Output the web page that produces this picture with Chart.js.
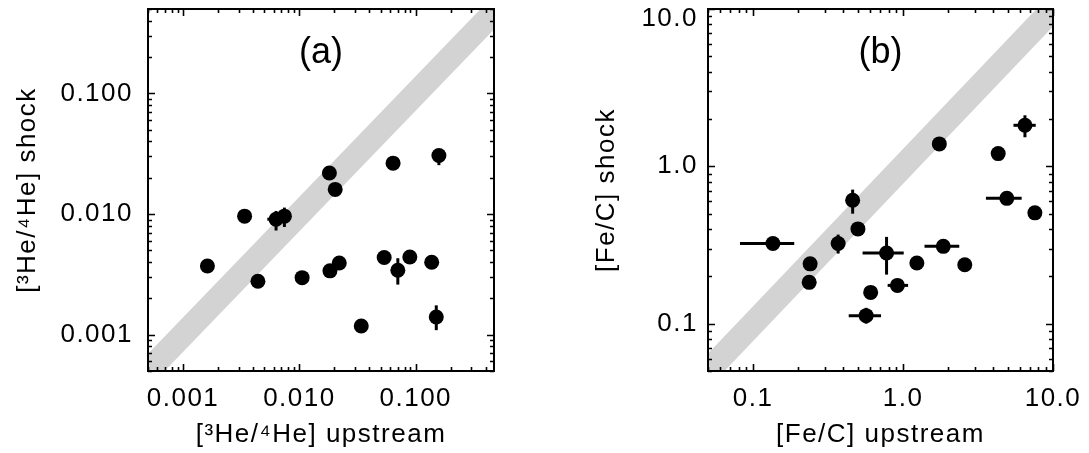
<!DOCTYPE html>
<html><head><meta charset="utf-8">
<script src="https://cdn.jsdelivr.net/npm/chart.js@4.4.1/dist/chart.umd.min.js"></script>
<style>
html,body{margin:0;padding:0;background:#fff;overflow:hidden}
#wrap{position:relative;width:1089px;height:453px;background:#fff}
canvas{position:absolute;top:0}
#ca{left:0}
#cb{left:545px}
</style></head><body>
<div id="wrap"><canvas id="ca" width="545" height="453"></canvas><canvas id="cb" width="544" height="453"></canvas></div>
<script>
// ---------- Panel (a): 3He/4He ----------
const xA = [0.00162, 0.00338, 0.0044, 0.0063, 0.00743, 0.01055, 0.0181, 0.0203, 0.0183, 0.022, 0.034, 0.0535, 0.0638, 0.0701, 0.0889, 0.137, 0.158, 0.150];
const yA = [0.00371, 0.0096, 0.00277, 0.00906, 0.0096, 0.00297, 0.0219, 0.016, 0.00338, 0.00393, 0.00118, 0.00436, 0.0264, 0.00342, 0.0044, 0.00398, 0.0305, 0.0014];
const xLoA = [null, null, null, 0.0053, 0.0067, null, null, null, null, null, null, null, null, null, null, null, null, null];
const xHiA = [null, null, null, 0.0075, 0.0082, null, null, null, null, null, null, null, null, null, null, null, null, null];
const yLoA = [null, null, null, 0.0073, 0.0078, null, null, null, null, null, null, null, null, 0.0026, null, 0.0035, 0.0254, 0.00109];
const yHiA = [null, null, null, 0.0106, 0.0113, null, null, null, null, null, null, null, null, 0.0043, null, 0.0045, 0.0344, 0.00175];
const rangeA = [0.0005, 0.47];
const yRangeA = [0.0005, 0.5];
const xTicksA = [0.001, 0.01, 0.1];
const xTickLabelsA = ['0.001', '0.010', '0.100'];
const yTicksA = [0.001, 0.01, 0.1];
const yTickLabelsA = ['0.001', '0.010', '0.100'];
const xTitleA = '[³He/⁴He] upstream';
const yTitleA = '[³He/⁴He] shock';
const panelA = '(a)';

// ---------- Panel (b): Fe/C ----------
const xB = [0.1355, 0.24, 0.2365, 0.369, 0.461, 0.50, 0.776, 0.608, 0.567, 0.917, 1.236, 1.855, 1.745, 2.58, 4.31, 4.92, 6.5, 7.57];
const yB = [0.323, 0.24, 0.183, 0.323, 0.608, 0.40, 0.281, 0.158, 0.1124, 0.175, 0.243, 0.31, 1.388, 0.237, 1.205, 0.626, 1.823, 0.506];
const xLoB = [0.0817, null, null, null, null, null, 0.537, null, 0.434, 0.789, null, 1.39, null, null, null, 3.57, 5.45, null];
const xHiB = [0.188, null, null, null, null, null, 1.01, null, 0.713, 1.08, null, 2.37, null, null, null, 6.18, 7.67, null];
const yLoB = [null, null, null, 0.279, 0.5, null, 0.205, null, 0.1, null, null, null, null, null, null, null, 1.53, null];
const yHiB = [null, null, null, 0.368, 0.711, null, 0.356, null, 0.126, null, null, null, null, null, null, null, 2.11, null];
const rangeB = [0.05, 10];
const yRangeB = [0.05, 10];
const xTicksB = [0.1, 1, 10];
const xTickLabelsB = ['0.1', '1.0', '10.0'];
const yTicksB = [0.1, 1, 10];
const yTickLabelsB = ['0.1', '1.0', '10.0'];
const xTitleB = '[Fe/C] upstream';
const yTitleB = '[Fe/C] shock';
const panelB = '(b)';

// equality line y = x (drawn as a thick band)
const bandLine = [1e-5, 1e3];

Chart.defaults.font.family = '"Liberation Sans", Arial, Helvetica, sans-serif';
Chart.defaults.color = '#000';

const FONT = 26;

const framePlugin = {
  id: 'frame',
  beforeDraw(chart) {
    const ca = chart.chartArea;
    // keep the top y label inside the canvas (as in the reference)
    const items = chart.scales.y.getLabelItems(ca);
    for (const it of items) {
      const t = it.options.translation;
      if (t && t[1] < ca.top + 10) t[1] = ca.top + 10;
    }
    chart.ctx.letterSpacing = '1.5px';
  },
  afterDatasetsDraw(chart, args, opts) {
    const ctx = chart.ctx, ca = chart.chartArea;
    const xs = chart.scales.x, ys = chart.scales.y;
    ctx.save();
    ctx.beginPath(); ctx.rect(ca.left, ca.top, ca.right - ca.left, ca.bottom - ca.top); ctx.clip();
    ctx.strokeStyle = '#000'; ctx.lineWidth = 3; ctx.lineCap = 'butt';
    const e = opts.err;
    for (let i = 0; i < e.x.length; i++) {
      const px = xs.getPixelForValue(e.x[i]), py = ys.getPixelForValue(e.y[i]);
      if (e.xlo[i] != null) {
        ctx.beginPath(); ctx.moveTo(xs.getPixelForValue(e.xlo[i]), py); ctx.lineTo(xs.getPixelForValue(e.xhi[i]), py); ctx.stroke();
      }
      if (e.ylo[i] != null) {
        ctx.beginPath(); ctx.moveTo(px, ys.getPixelForValue(e.ylo[i])); ctx.lineTo(px, ys.getPixelForValue(e.yhi[i])); ctx.stroke();
      }
    }
    ctx.restore();
  },
  afterDraw(chart, args, opts) {
    const ctx = chart.ctx, ca = chart.chartArea;
    const xs = chart.scales.x, ys = chart.scales.y;
    ctx.save();
    ctx.letterSpacing = '0px';
    ctx.strokeStyle = '#000';
    ctx.lineWidth = 2;
    ctx.strokeRect(ca.left, ca.top, ca.right - ca.left, ca.bottom - ca.top);
    ctx.lineWidth = 1.6;
    const drawTicks = (scale, horizontal) => {
      const lo = scale.min, hi = scale.max;
      for (let d = Math.floor(Math.log10(lo)); d <= Math.ceil(Math.log10(hi)); d++) {
        for (let m = 1; m <= 9; m++) {
          const v = m * Math.pow(10, d);
          if (v < lo * 0.999 || v > hi * 1.001) continue;
          const len = m === 1 ? 7 : 4;
          const p = Math.round(scale.getPixelForValue(v)) + 0.5;
          ctx.beginPath();
          if (horizontal) {
            ctx.moveTo(p, ca.bottom); ctx.lineTo(p, ca.bottom - len);
            ctx.moveTo(p, ca.top); ctx.lineTo(p, ca.top + len);
          } else {
            ctx.moveTo(ca.left, p); ctx.lineTo(ca.left + len, p);
            ctx.moveTo(ca.right, p); ctx.lineTo(ca.right - len, p);
          }
          ctx.stroke();
        }
      }
    };
    drawTicks(xs, true);
    drawTicks(ys, false);
    ctx.fillStyle = '#000';
    ctx.font = '36px "Liberation Sans", Arial, sans-serif';
    ctx.textAlign = 'center';
    ctx.textBaseline = 'middle';
    ctx.fillText(opts.label, (ca.left + ca.right) / 2, ca.top + 44);
    ctx.restore();
  }
};

function makePanel(id, p) {
  const pts = p.x.map((v, i) => ({ x: v, y: p.y[i] }));
  const band = p.band.map(v => ({ x: v, y: v }));
  return new Chart(document.getElementById(id), {
    type: 'scatter',
    data: {
      datasets: [
        { data: pts, pointRadius: 7.5, pointBackgroundColor: '#000', pointBorderColor: '#000', pointBorderWidth: 0, order: 0 },
        { data: band, showLine: true, borderColor: '#d3d3d3', borderWidth: 24, pointRadius: 0, borderCapStyle: 'butt', fill: false, clip: 0, order: 5 }
      ]
    },
    options: {
      responsive: false,
      animation: false,
      events: [],
      layout: { padding: { top: 9, right: p.padRight, left: 0, bottom: 0 } },
      plugins: {
        legend: { display: false },
        tooltip: { enabled: false },
        frame: { err: { x: p.x, y: p.y, xlo: p.xlo, xhi: p.xhi, ylo: p.ylo, yhi: p.yhi }, label: p.label }
      },
      scales: {
        x: {
          type: 'logarithmic', position: 'bottom', min: p.xr[0], max: p.xr[1],
          afterBuildTicks: s => { s.ticks = p.xt.map(v => ({ value: v })); },
          afterFit: s => { s.height = 82; s.paddingLeft = 0; s.paddingRight = 0; s.paddingTop = 0; s.paddingBottom = 0; },
          ticks: { callback: (v, i) => p.xtl[i], font: { size: FONT }, color: '#000', padding: 12, maxRotation: 0, autoSkip: false },
          grid: { display: false, drawTicks: false },
          border: { display: false },
          title: { display: true, text: p.xtitle, font: { size: FONT }, color: '#000', padding: { top: 0, bottom: 3 } }
        },
        y: {
          type: 'logarithmic', position: 'left', min: p.yr[0], max: p.yr[1],
          afterBuildTicks: s => { s.ticks = p.yt.map(v => ({ value: v })); },
          afterFit: s => { s.width = p.leftW; s.paddingLeft = 0; s.paddingRight = 0; s.paddingTop = 0; s.paddingBottom = 0; },
          ticks: { callback: (v, i) => p.ytl[i], font: { size: FONT }, color: '#000', padding: p.yPad, autoSkip: false },
          grid: { display: false, drawTicks: false },
          border: { display: false },
          title: { display: true, text: p.ytitle, font: { size: FONT }, color: '#000', padding: { top: p.yTitlePad, bottom: 0 } }
        }
      }
    },
    plugins: [framePlugin]
  });
}

makePanel('ca', { x: xA, y: yA, xlo: xLoA, xhi: xHiA, ylo: yLoA, yhi: yHiA, xr: rangeA, yr: yRangeA,
  xt: xTicksA, xtl: xTickLabelsA, yt: yTicksA, ytl: yTickLabelsA, xtitle: xTitleA, ytitle: yTitleA, label: panelA,
  band: bandLine, padRight: 51, leftW: 148, yPad: 15, yTitlePad: 12 });
makePanel('cb', { x: xB, y: yB, xlo: xLoB, xhi: xHiB, ylo: yLoB, yhi: yHiB, xr: rangeB, yr: yRangeB,
  xt: xTicksB, xtl: xTickLabelsB, yt: yTicksB, ytl: yTickLabelsB, xtitle: xTitleB, ytitle: yTitleB, label: panelB,
  band: bandLine, padRight: 36, leftW: 163, yPad: 10, yTitlePad: 46 });
</script>
</body></html>
